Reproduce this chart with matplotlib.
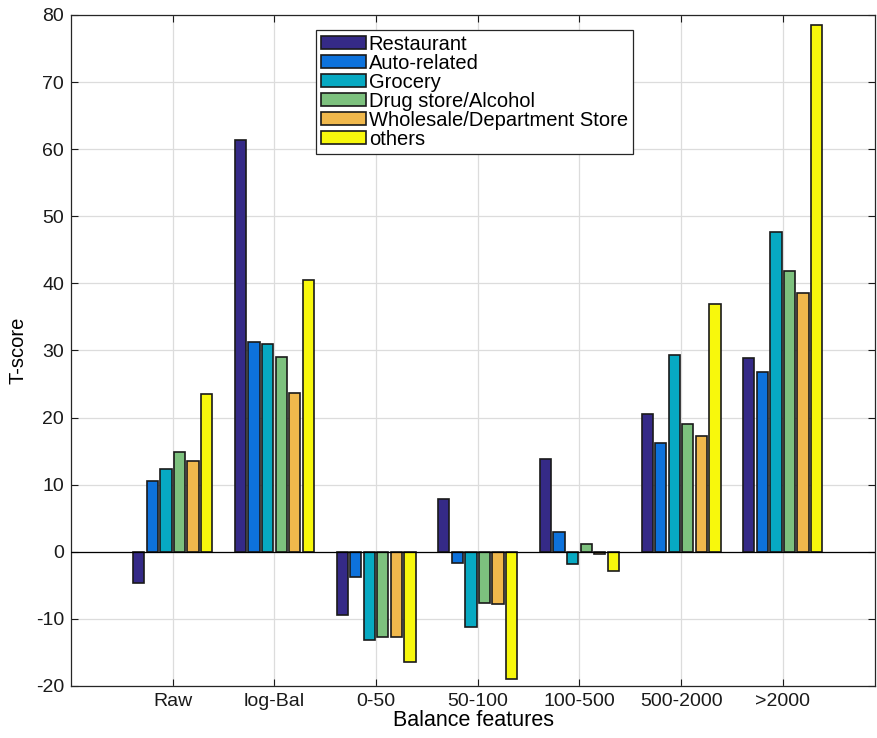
import matplotlib
matplotlib.use("Agg")
import matplotlib.pyplot as plt
import numpy as np

plt.rcParams["font.family"] = ["Liberation Sans", "DejaVu Sans"]
plt.rcParams["axes.unicode_minus"] = False

CATEGORIES = ["Raw", "log-Bal", "0-50", "50-100", "100-500", "500-2000", ">2000"]
SERIES = ["Restaurant", "Auto-related", "Grocery", "Drug store/Alcohol",
          "Wholesale/Department Store", "others"]
COLORS = ["#352a87", "#0d72dc", "#07a9c2", "#7dc17e", "#f0b84c", "#f8f80c"]

restaurant = [-4.6, 61.3, -9.4, 7.9, 13.9, 20.5, 28.9]
auto_related = [10.6, 31.2, -3.7, -1.7, 2.9, 16.2, 26.8]
grocery = [12.4, 30.9, -13.1, -11.2, -1.8, 29.3, 47.6]
drug_alcohol = [14.8, 29.1, -12.7, -7.7, 1.1, 19.0, 41.8]
wholesale = [13.6, 23.6, -12.7, -7.8, -0.3, 17.3, 38.5]
others = [23.5, 40.5, -16.4, -19.0, -2.8, 37.0, 78.5]

values = [restaurant, auto_related, grocery, drug_alcohol, wholesale, others]

fig = plt.figure(figsize=(8.77, 7.38), dpi=100)
ax = fig.add_axes([0.081, 0.0705, 0.917, 0.9092])

x = np.arange(1, len(CATEGORIES) + 1)
step = 0.8 / len(SERIES)
for i, (name, vals, col) in enumerate(zip(SERIES, values, COLORS)):
    offs = (i - (len(SERIES) - 1) / 2) * step
    ax.bar(x + offs, vals, width=step * 0.83, color=col, edgecolor="#1a1a1a",
           linewidth=1.2, label=name, zorder=3)

ax.axhline(0, color="black", linewidth=0.9, zorder=4)

ax.set_xlim(0, 7.91)
ax.set_ylim(-20, 80)
ax.set_xticks(x)
ax.set_xticklabels(CATEGORIES)
ax.set_yticks(np.arange(-20, 81, 10))
ax.grid(True, color="#dcdcdc", linewidth=0.9, zorder=0)
ax.set_axisbelow(True)
ax.tick_params(direction="in", top=True, right=True, length=5, width=0.8,
               labelsize=14, colors="#1a1a1a", pad=5)
for s in ax.spines.values():
    s.set_color("#262626")
    s.set_linewidth(0.9)

ax.set_xlabel("Balance features", fontsize=15.5, labelpad=0)
ax.set_ylabel("T-score", fontsize=14.5, labelpad=6)

leg = ax.legend(loc="upper left", bbox_to_anchor=(0.305, 0.978), fontsize=14.5,
                handlelength=2.2, handleheight=0.65, labelspacing=0.0,
                handletextpad=0.15, borderpad=0.25, borderaxespad=0,
                fancybox=False, framealpha=1, edgecolor="#262626")
leg.get_frame().set_linewidth(0.9)

fig.savefig("out.png", dpi=100)
